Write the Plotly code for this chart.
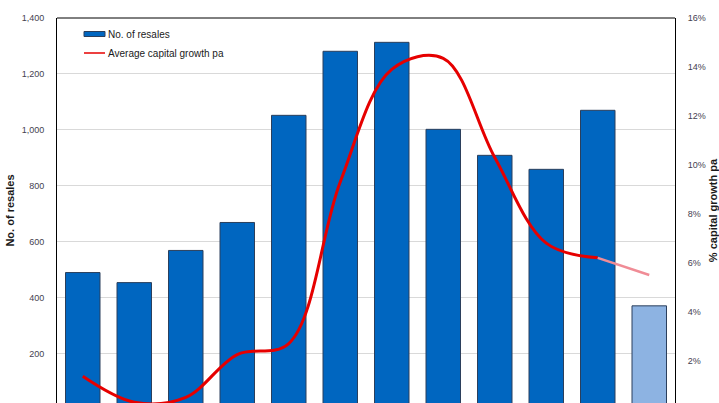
import plotly.graph_objects as go

categories = ["1997", "1998", "1999", "2000", "2001", "2002", "2003", "2004", "2005", "2006", "2007", "2008"]
resales = [490, 454, 569, 669, 1052, 1281, 1313, 1002, 909, 859, 1070, 371]
growth = [1.36, 0.30, 0.50, 2.25, 2.70, 9.3, 13.9, 14.35, 10.3, 6.8, 6.2]
growth_partial = [6.2, 5.5]

bar_colors = ["#0066C0"] * 11 + ["#8DB3E2"]

fig = go.Figure()
fig.add_trace(go.Bar(
    x=categories, y=resales, name="No. of resales",
    marker=dict(color=bar_colors, line=dict(color="#2B3F5C", width=1)),
    width=0.67, showlegend=False,
))
fig.add_trace(go.Scatter(
    x=categories[:11], y=growth, name="Average capital growth pa",
    mode="lines", line=dict(color="#E60000", width=3, shape="spline", smoothing=1.0),
    yaxis="y2", showlegend=False,
))
fig.add_trace(go.Scatter(
    x=categories[10:], y=growth_partial, name="Average capital growth pa (partial)",
    mode="lines", line=dict(color="#F08C96", width=2.5),
    yaxis="y2", showlegend=False,
))

font_family = "Liberation Sans, Arial, sans-serif"

# custom legend
fig.add_shape(type="rect", xref="paper", yref="paper",
              x0=(84 - 57) / 618, x1=(105 - 57) / 618,
              y0=(403 - 36.5) / 385, y1=(403 - 31.5) / 385,
              fillcolor="#0066C0", line=dict(color="#2B3F5C", width=1))
fig.add_shape(type="line", xref="paper", yref="paper",
              x0=(84 - 57) / 618, x1=(105 - 57) / 618,
              y0=(403 - 53) / 385, y1=(403 - 53) / 385,
              line=dict(color="#E60000", width=1.5))
fig.add_annotation(xref="paper", yref="paper", x=(106 - 57) / 618, y=(403 - 34) / 385,
                   text="No. of resales", showarrow=False, xanchor="left", yanchor="middle",
                   font=dict(family=font_family, size=10, color="#1A1A1A"))
fig.add_annotation(xref="paper", yref="paper", x=(106 - 57) / 618, y=(403 - 53) / 385,
                   text="Average capital growth pa", showarrow=False, xanchor="left", yanchor="middle",
                   font=dict(family=font_family, size=10, color="#1A1A1A"))

fig.update_layout(
    width=719, height=403,
    margin=dict(l=57, r=44, t=18, b=0),
    paper_bgcolor="white", plot_bgcolor="white",
    font=dict(family=font_family, size=9, color="#45404F"),
    bargap=0.33,
    xaxis=dict(showticklabels=False, ticks="", showgrid=False, showline=False, zeroline=False,
               mirror=False),
    yaxis=dict(range=[23.6, 1400], dtick=200, tickformat=",d", showgrid=True, gridcolor="#D9D9D9",
               gridwidth=1, showline=True, linecolor="#000000", linewidth=1, zeroline=False,
               ticks="", ticklabelstandoff=10, tickfont=dict(size=9, color="#45404F"),
               title=dict(text="<b>No. of resales</b>", font=dict(size=11, color="#1A1A1A"), standoff=4)),
    yaxis2=dict(range=[0.27, 16], dtick=2, ticksuffix="%", overlaying="y", side="right",
                showgrid=False, showline=True, linecolor="#000000", linewidth=1, zeroline=False,
                ticks="", ticklabelstandoff=10, tickfont=dict(size=9, color="#45404F"),
                title=dict(text="<b>% capital growth pa</b>", font=dict(size=11, color="#1A1A1A"), standoff=6)),
)
fig.add_shape(type="line", xref="paper", yref="paper", x0=0, x1=1, y0=1, y1=1,
              line=dict(color="#000000", width=1))

fig.write_html("out.html")
